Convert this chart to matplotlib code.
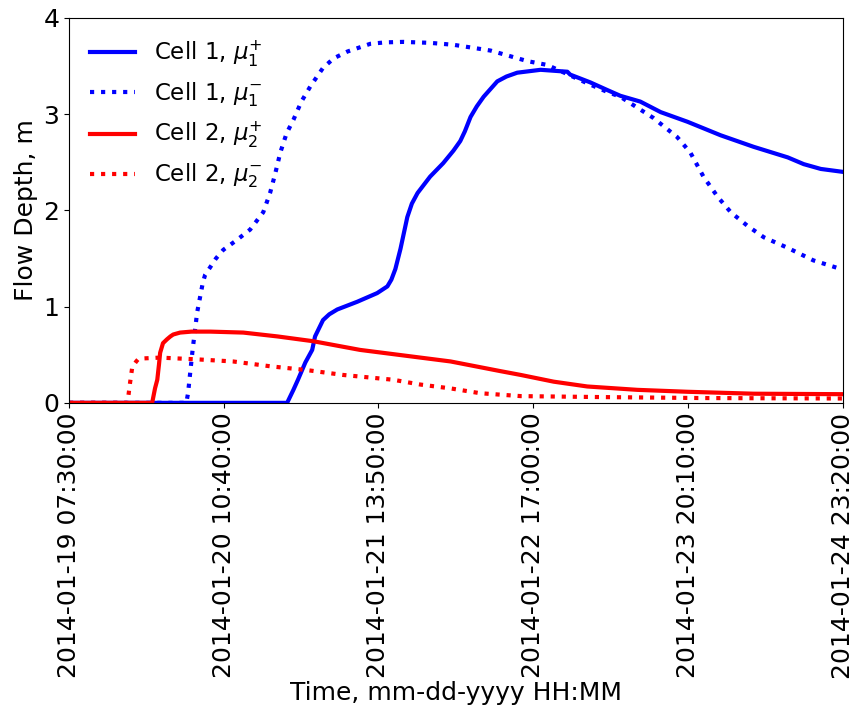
import matplotlib
matplotlib.use("Agg")
import matplotlib.pyplot as plt
import pandas as pd

start = pd.Timestamp("2014-01-19 07:30:00")
end = pd.Timestamp("2014-01-24 23:20:00")
tick_labels = ["2014-01-19 07:30:00", "2014-01-20 10:40:00", "2014-01-21 13:50:00",
               "2014-01-22 17:00:00", "2014-01-23 20:10:00", "2014-01-24 23:20:00"]

# hours since start, depth in m
c1p_h = [0, 38.3, 39.4, 40.2, 41.5, 42.7, 43.2, 44.6, 45.7, 47.1, 50.6, 54.1, 55.9, 56.6,
         57.3, 58.2, 59.4, 60.2, 61.2, 63.4, 65.7, 67.5, 68.7, 69.5, 70.5, 71.6, 72.8,
         75.2, 76.8, 78.7, 82.8, 87.5, 88.0, 91.5, 94.5, 96.8, 100.3, 103.9, 108.6,
         114.4, 120.2, 126.2, 129.0, 132.0, 135.83]
c1p_v = [0, 0, 0.135, 0.24, 0.42, 0.55, 0.69, 0.86, 0.92, 0.97, 1.05, 1.14, 1.21, 1.28,
         1.39, 1.60, 1.93, 2.07, 2.18, 2.35, 2.49, 2.62, 2.72, 2.82, 2.97, 3.08, 3.18,
         3.34, 3.39, 3.43, 3.46, 3.44, 3.41, 3.33, 3.25, 3.19, 3.13, 3.02, 2.92,
         2.78, 2.66, 2.55, 2.48, 2.43, 2.40]

c1m_h = [0, 20.6, 20.9, 21.7, 22.5, 23.5, 23.9, 24.8, 25.8, 27.1, 29.2, 31.8, 34.1, 35.3,
         36.2, 37.1, 38.2, 39.4, 40.8, 42.4, 44.6, 46.5, 48.9, 52.9, 55.5, 58.7, 63.4,
         67.5, 74.0, 80.5, 84.0, 91.0, 94.5, 96.8, 102.6, 106.8, 109.1, 111.4, 113.9,
         116.2, 119.1, 122.0, 126.2, 130.7, 135.0, 135.83]
c1m_v = [0, 0, 0.10, 0.55, 0.94, 1.25, 1.33, 1.41, 1.50, 1.59, 1.68, 1.80, 1.98, 2.18,
         2.38, 2.60, 2.80, 2.94, 3.13, 3.29, 3.48, 3.58, 3.65, 3.73, 3.745, 3.75, 3.74,
         3.72, 3.66, 3.55, 3.51, 3.32, 3.23, 3.18, 2.96, 2.76, 2.60, 2.35, 2.14,
         1.98, 1.84, 1.72, 1.61, 1.48, 1.40, 1.38]

c2p_h = [0, 14.6, 15.1, 15.5, 15.8, 16.0, 16.5, 17.2, 17.8, 18.3, 19.5, 21.5, 24.8, 30.6,
         36.6, 42.9, 51.1, 61.7, 67.0, 75.7, 79.3, 85.1, 91.0, 99.8, 108.6, 120.2, 135.83]
c2p_v = [0, 0, 0.15, 0.24, 0.40, 0.52, 0.62, 0.66, 0.69, 0.71, 0.73, 0.74, 0.74, 0.73,
         0.69, 0.64, 0.55, 0.47, 0.43, 0.33, 0.29, 0.22, 0.17, 0.135, 0.115, 0.095, 0.09]

c2m_h = [0, 10.2, 10.4, 10.7, 11.1, 11.8, 12.1, 12.5, 16.0, 23.0, 28.8, 35.3, 41.8, 48.1,
         56.9, 61.7, 67.0, 72.2, 79.3, 93.3, 110.9, 135.83]
c2m_v = [0, 0, 0.06, 0.20, 0.37, 0.43, 0.45, 0.46, 0.47, 0.45, 0.43, 0.38, 0.34, 0.29,
         0.24, 0.19, 0.15, 0.10, 0.07, 0.06, 0.05, 0.045]


def to_time(hours):
    return start + pd.to_timedelta(hours, unit="h")


fig = plt.figure(figsize=(8.52, 7.13), dpi=100)
ax = fig.add_axes([0.081, 0.435, 0.908, 0.54])

lw = 3
ax.plot(to_time(c1p_h), c1p_v, color="blue", lw=lw, ls="-", label=r"Cell 1, $\mu_1^{+}$")
ax.plot(to_time(c1m_h), c1m_v, color="blue", lw=lw, ls=":", label=r"Cell 1, $\mu_1^{-}$")
ax.plot(to_time(c2p_h), c2p_v, color="red", lw=lw, ls="-", label=r"Cell 2, $\mu_2^{+}$")
ax.plot(to_time(c2m_h), c2m_v, color="red", lw=lw, ls=":", label=r"Cell 2, $\mu_2^{-}$")

ax.set_xlim(start, end)
ax.set_ylim(0, 4)
ax.set_yticks([0, 1, 2, 3, 4])
ticks = pd.to_datetime(tick_labels)
ax.set_xticks(ticks)
ax.set_xticklabels(tick_labels, rotation=90)
ax.tick_params(labelsize=18)
ax.set_xlabel("Time, mm-dd-yyyy HH:MM", fontsize=18, labelpad=2)
ax.set_ylabel("Flow Depth, m", fontsize=18)
ax.legend(loc="upper left", fontsize=16.5, frameon=False)

fig.savefig("out.png", dpi=100)
